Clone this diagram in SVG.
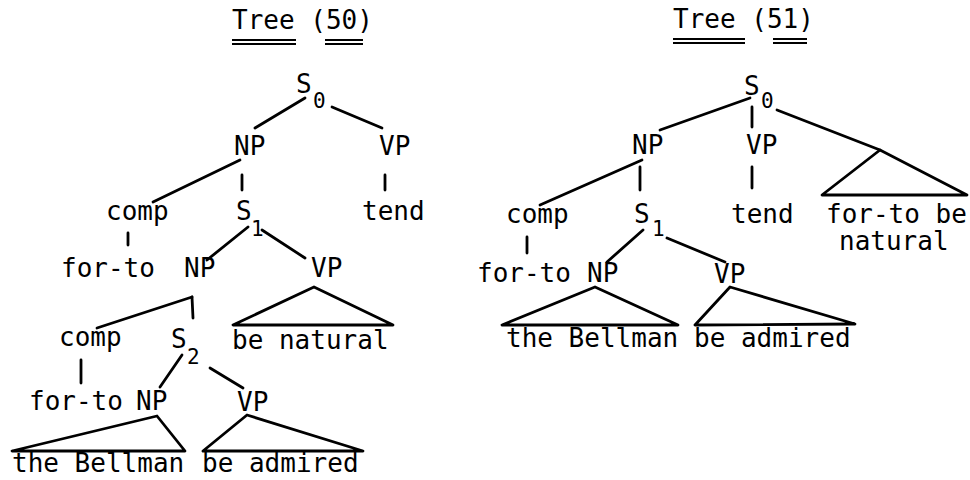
<svg xmlns="http://www.w3.org/2000/svg" width="970" height="480" viewBox="0 0 970 480">
<style>
text{font-family:"DejaVu Sans Mono","Liberation Mono",monospace;font-size:26px;fill:#000}
.sub{font-size:21px}
.e line,.e polygon{stroke:#000;stroke-width:2.8;fill:none;stroke-linecap:round;stroke-linejoin:round}
.u{stroke:#000;stroke-width:2}
</style>
<rect width="970" height="480" fill="#fff"/>
<g id="title50"><text x="232" y="29">Tree (50)</text>
<line class="u" x1="232" y1="40" x2="296" y2="40"/><line class="u" x1="232" y1="44" x2="296" y2="44"/>
<line class="u" x1="325" y1="40" x2="363" y2="40"/><line class="u" x1="325" y1="44" x2="363" y2="44"/></g>
<g id="title51"><text x="673" y="28">Tree (51)</text>
<line class="u" x1="673" y1="39" x2="745" y2="39"/><line class="u" x1="673" y1="43" x2="745" y2="43"/>
<line class="u" x1="773" y1="39" x2="807" y2="39"/><line class="u" x1="773" y1="43" x2="807" y2="43"/></g>
<!-- Tree 50 nodes -->
<g id="L-S0"><text x="296" y="93">S</text><text class="sub" x="313" y="108">0</text></g>
<g id="L-NP1"><text x="234" y="155">NP</text></g>
<g id="L-VP1"><text x="379" y="155">VP</text></g>
<g id="L-comp1"><text x="106" y="220">comp</text></g>
<g id="L-S1"><text x="236" y="220">S</text><text class="sub" x="251" y="236">1</text></g>
<g id="L-tend"><text x="362" y="220">tend</text></g>
<g id="L-forto1"><text x="61" y="277">for-to</text></g>
<g id="L-NP2"><text x="184" y="277">NP</text></g>
<g id="L-VP2"><text x="311" y="277">VP</text></g>
<g id="L-benatural"><text x="232" y="349">be natural</text></g>
<g id="L-comp2"><text x="59" y="346">comp</text></g>
<g id="L-S2"><text x="171" y="348">S</text><text class="sub" x="187" y="364">2</text></g>
<g id="L-forto2"><text x="29" y="410">for-to</text></g>
<g id="L-NP3"><text x="136" y="410">NP</text></g>
<g id="L-VP3"><text x="237" y="411">VP</text></g>
<g id="L-bellman"><text x="12" y="472">the Bellman</text></g>
<g id="L-admired"><text x="202" y="472">be admired</text></g>
<!-- Tree 51 nodes -->
<g id="R-S0"><text x="744" y="95">S</text><text class="sub" x="761" y="108">0</text></g>
<g id="R-NP1"><text x="632" y="154">NP</text></g>
<g id="R-VP1"><text x="746" y="154">VP</text></g>
<g id="R-comp"><text x="506" y="223">comp</text></g>
<g id="R-S1"><text x="634" y="223">S</text><text class="sub" x="652" y="236">1</text></g>
<g id="R-tend"><text x="731" y="223">tend</text></g>
<g id="R-fortobe"><text x="826" y="223">for-to be</text><text x="839" y="250">natural</text></g>
<g id="R-forto"><text x="477" y="282">for-to</text></g>
<g id="R-NP2"><text x="587" y="282">NP</text></g>
<g id="R-VP2"><text x="714" y="283">VP</text></g>
<g id="R-bellman"><text x="506" y="347">the Bellman</text></g>
<g id="R-admired"><text x="694" y="347">be admired</text></g>
<!-- connectors -->
<g id="connectors" class="e">
<line x1="305" y1="98" x2="255" y2="128"/>
<line x1="332" y1="107" x2="382" y2="128"/>
<line x1="240" y1="160" x2="153" y2="202"/>
<line x1="242" y1="175" x2="242" y2="190"/>
<line x1="385" y1="175" x2="385" y2="190"/>
<line x1="128" y1="233" x2="128" y2="245"/>
<line x1="248" y1="227" x2="207" y2="260"/>
<line x1="262" y1="230" x2="305" y2="258"/>
<polygon points="314,287 233,325 393,325"/>
<line x1="192" y1="297" x2="97" y2="328"/>
<line x1="192" y1="297" x2="193" y2="318"/>
<line x1="81" y1="360" x2="81" y2="383"/>
<line x1="182" y1="355" x2="160" y2="387"/>
<line x1="210" y1="368" x2="243" y2="388"/>
<polygon points="157,416 12,451 185,451"/>
<polygon points="247,415 203,451 363,451"/>
<line x1="750" y1="98" x2="660" y2="130"/>
<line x1="752" y1="107" x2="752" y2="127"/>
<line x1="777" y1="110" x2="880" y2="150"/>
<polygon points="880,150 822,195 967,195"/>
<line x1="642" y1="160" x2="540" y2="205"/>
<line x1="640" y1="167" x2="640" y2="190"/>
<line x1="752" y1="167" x2="752" y2="188"/>
<line x1="527" y1="237" x2="527" y2="253"/>
<line x1="643" y1="230" x2="607" y2="262"/>
<line x1="667" y1="238" x2="725" y2="262"/>
<polygon points="595,287 502,325 678,325"/>
<polygon points="730,287 695,325 855,324"/>
</g>
</svg>
